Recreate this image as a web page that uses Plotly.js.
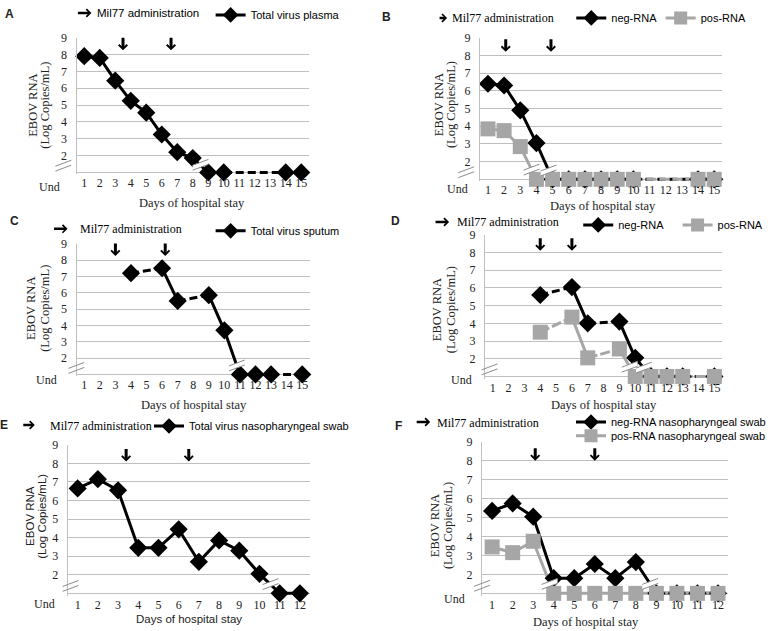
<!DOCTYPE html>
<html>
<head>
<meta charset="utf-8">
<script src="https://cdn.plot.ly/plotly-3.0.1.min.js"></script>
<style>
html, body { margin: 0; padding: 0; background: #fff; }
#chart { width: 771px; height: 631px; }
</style>
</head>
<body>
<div id="chart"></div>
<script>
const W = 771, H = 631;

// "Und" (undetectable) is plotted on the bottom line, value 1
const days15 = [1, 2, 3, 4, 5, 6, 7, 8, 9, 10, 11, 12, 13, 14, 15];
const days12 = [1, 2, 3, 4, 5, 6, 7, 8, 9, 10, 11, 12];
const yTicks = [2, 3, 4, 5, 6, 7, 8, 9];

// A - plasma
const aTotal = [7.9, 7.8, 6.45, 5.25, 4.55, 3.25, 2.2, 1.85, 1, 1, null, null, null, 1, 1];
// B - plasma strands
const bNeg = [6.4, 6.3, 4.9, 3.05, 1, 1, 1, 1, 1, 1, null, null, null, 1, 1];
const bPos = [3.85, 3.75, 2.85, 1, 1, 1, 1, 1, 1, 1, null, null, null, 1, 1];
// C - sputum
const cTotal = [null, null, null, 7.2, null, 7.5, 5.5, null, 5.85, 3.7, 1, 1, 1, null, 1];
// D - sputum strands
const dNeg = [null, null, null, 5.6, null, 6.05, 4.0, null, 4.1, 2.05, 1, 1, 1, null, 1];
const dPos = [null, null, null, 3.5, null, 4.35, 2.05, null, 2.55, 1, 1, 1, 1, null, 1];
// E - nasopharyngeal swab
const eTotal = [6.65, 7.15, 6.55, 3.45, 3.45, 4.45, 2.7, 3.85, 3.3, 2.05, 1, 1];
// F - nasopharyngeal swab strands
const fNeg = [5.35, 5.75, 5.05, 1.8, 1.8, 2.55, 1.8, 2.65, 1, 1, 1, 1];
const fPos = [3.45, 3.15, 3.75, 1, 1, 1, 1, 1, 1, 1, 1, 1];

// connecting segments [from day, to day, style]
const segA = [[1, 10, 'solid'], [10, 14, 'dash'], [14, 15, 'solid']];
const segB = [[1, 10, 'solid'], [10, 14, 'dash'], [14, 15, 'solid']];
const segC = [[4, 6, 'dash'], [6, 7, 'solid'], [7, 9, 'dash'], [9, 13, 'solid'], [13, 15, 'dash']];
const segD = segC;
const segE = [[1, 12, 'solid']];
const segF = [[1, 12, 'solid']];

// Mil77 administration (day position of the arrows)
const arrA = [3.5, 6.6];
const arrB = [2.1, 4.9];
const arrC = [3.0, 6.2];
const arrD = [4, 6];
const arrE = [3.4, 6.5];
const arrF = [3.1, 6.0];

// axis break marks on the lines [day, value]
const brkA = [[8.5, 1.45]];
const brkB = [[3.7, 1.55], [4.75, 1.5]];
const brkC = [[10.8, 1.55]];
const brkD = [[9.65, 1.55], [10.55, 1.5]];
const brkE = [[10.55, 1.5]];
const brkF = [[3.8, 1.5], [8.7, 1.5]];

const SANS = 'Liberation Sans, Arial, sans-serif';
const SERIF = 'Liberation Serif, Times New Roman, serif';
const GRID = '#bfbfbf';
const GREY = '#a6a6a6';
const Y0 = 0.88, Y1 = 9;

const styles = {
  neg: {color: '#000000', symbol: 'diamond', size: 14, dash: '8px,4px'},
  pos: {color: GREY, symbol: 'square', size: 15, dash: '10px,3px'}
};

const panels = [
  {letter: 'A', letterAt: [10, 8], days: days15, box: [77, 311, 32, 168],
   series: [{name: 'Total virus plasma', y: aTotal, seg: segA, kind: 'neg'}],
   arrows: arrA, arrowTip: 8.25, breaks: brkA, axisBreakDay: -0.35,
   mil: {tip: [92, 7], len: 15, text: [96, 7], font: SANS}, legend: [[252, 9]],
   und: [50, 183], ytitle: [33, 45, 100], xtitle: [193, 199], titleFont: SERIF},
  {letter: 'B', letterAt: [389, 11], days: days15, box: [483, 727, 32, 175],
   series: [{name: 'neg-RNA', y: bNeg, seg: segB, kind: 'neg'},
            {name: 'pos-RNA', y: bPos, seg: segB, kind: 'pos'}],
   arrows: arrB, arrowTip: 8.2, breaks: brkB, axisBreakDay: -0.35,
   mil: {tip: [450, 12], len: 9, text: [453, 12], font: SERIF}, legend: [[615, 12], [705, 12]],
   und: [460, 185], ytitle: [442, 454, 100], xtitle: [607, 202], titleFont: SERIF},
  {letter: 'C', letterAt: [15, 217], days: days15, box: [77, 312, 240, 372],
   series: [{name: 'Total virus sputum', y: cTotal, seg: segC, kind: 'neg'}],
   arrows: arrC, arrowTip: 8.25, breaks: brkC, axisBreakDay: 0.49,
   mil: {tip: [68, 225], len: 15, text: [79, 225], font: SERIF}, legend: [[252, 227]],
   und: [47, 378], ytitle: [31, 45, 305], xtitle: [195, 403], titleFont: SERIF},
  {letter: 'D', letterAt: [398, 217], days: days15, box: [488, 727, 231, 374],
   series: [{name: 'neg-RNA', y: dNeg, seg: segD, kind: 'neg'},
            {name: 'pos-RNA', y: dPos, seg: segD, kind: 'pos'}],
   arrows: arrD, arrowTip: 8.1, breaks: brkD, axisBreakDay: 0.8,
   mil: {tip: [452, 218], len: 15, text: [458, 218], font: SERIF}, legend: [[622, 221], [722, 221]],
   und: [465, 378], ytitle: [440, 454, 307], xtitle: [608, 403], titleFont: SERIF},
  {letter: 'E', letterAt: [4, 423], days: days12, box: [68, 312, 443, 593],
   series: [{name: 'Total virus nasopharyngeal swab', y: eTotal, seg: segE, kind: 'neg'}],
   arrows: arrE, arrowTip: 8.1, breaks: brkE, axisBreakDay: 0.65,
   mil: {tip: [35, 423], len: 13, text: [48, 424], font: SERIF}, legend: [[190, 424]],
   und: [45, 604], ytitle: [30, 42, 515], xtitle: [190, 619], titleFont: SANS},
  {letter: 'F', letterAt: [401, 424], days: days12, box: [485, 733, 440, 593],
   series: [{name: 'neg-RNA nasopharyngeal swab', y: fNeg, seg: segF, kind: 'neg'},
            {name: 'pos-RNA nasopharyngeal swab', y: fPos, seg: segF, kind: 'pos'}],
   arrows: arrF, arrowTip: 8.0, breaks: brkF, axisBreakDay: 0.51,
   mil: {tip: [433, 420], len: 15, text: [438, 421], font: SERIF}, legend: [[615, 420], [615, 434]],
   und: [457, 599], ytitle: [438, 451, 525], xtitle: [590, 622], titleFont: SERIF}
];

const traces = [];
const layout = {
  width: W, height: H,
  margin: {l: 0, r: 0, t: 0, b: 0},
  paper_bgcolor: '#ffffff', plot_bgcolor: '#ffffff',
  showlegend: true,
  annotations: [], shapes: []
};

// pixel -> paper
const fx = px => px / W;
const fy = py => 1 - py / H;

const text = (x, y, t, font, size, extra) => {
  layout.annotations.push(Object.assign({
    x: fx(x), y: fy(y), xref: 'paper', yref: 'paper',
    xanchor: 'center', yanchor: 'middle', showarrow: false, text: t,
    font: {family: font, size: size, color: '#222'}
  }, extra || {}));
};

let legendCount = 0;

panels.forEach((p, i) => {
  const k = i === 0 ? '' : String(i + 1);
  const xa = 'x' + k, ya = 'y' + k;
  const n = p.days.length;
  const [l, r, top, und] = p.box;
  const unit = (und - top) / 8;
  const bottom = und + (1 - Y0) * unit;
  const px = x => l + (x - 0.5) / n * (r - l);
  const py = y => top + (Y1 - y) * unit;

  layout['xaxis' + k] = {
    domain: [fx(l), fx(r)], range: [0.5, n + 0.5], anchor: ya,
    tickvals: p.days, ticks: '', showgrid: false, zeroline: false,
    showline: false, ticklabelstandoff: 0,
    tickfont: {family: SERIF, size: 12, color: '#222'}, fixedrange: true
  };
  layout['yaxis' + k] = {
    domain: [fy(bottom), fy(top)], range: [Y0, Y1], anchor: xa,
    tickvals: [1].concat(yTicks), ticktext: [''].concat(yTicks.map(String)),
    ticks: '', showgrid: true, gridcolor: GRID, gridwidth: 1, zeroline: false,
    showline: true, linecolor: GRID, linewidth: 1, ticklabelstandoff: 6,
    tickfont: {family: SERIF, size: 12, color: '#222'}, fixedrange: true
  };

  // lines first, black under grey
  p.series.forEach(s => {
    const st = styles[s.kind];
    s.seg.forEach(([a, b, dash]) => {
      const xs = [], ys = [];
      p.days.forEach((d, j) => {
        if (d >= a && d <= b && s.y[j] !== null) { xs.push(d); ys.push(s.y[j]); }
      });
      traces.push({
        x: xs, y: ys, xaxis: xa, yaxis: ya, mode: 'lines', showlegend: false,
        hoverinfo: 'skip', cliponaxis: false,
        line: {color: st.color, width: 3, dash: dash === 'dash' ? st.dash : 'solid'}
      });
    });
  });
  // markers
  p.series.forEach(s => {
    const st = styles[s.kind];
    traces.push({
      x: p.days, y: s.y, xaxis: xa, yaxis: ya, mode: 'markers', showlegend: false,
      cliponaxis: false, hoverinfo: 'x+y',
      marker: {symbol: st.symbol, size: st.size, color: st.color}
    });
  });
  // legend entries, one legend box each
  p.series.forEach((s, j) => {
    const st = styles[s.kind];
    legendCount++;
    const lk = legendCount === 1 ? 'legend' : 'legend' + legendCount;
    const [tx, ty] = p.legend[j];
    layout[lk] = {
      x: fx(tx - 40), y: fy(ty), xanchor: 'left', yanchor: 'middle',
      orientation: 'h', bgcolor: 'rgba(0,0,0,0)', itemwidth: 30,
      font: {family: SANS, size: 11, color: '#000'}
    };
    traces.push({
      x: [null], y: [null], xaxis: xa, yaxis: ya, name: s.name, legend: lk,
      mode: 'lines+markers', showlegend: true,
      line: {color: st.color, width: 3},
      marker: {symbol: st.symbol, size: st.size - 2, color: st.color}
    });
  });

  // Mil77 arrows in the plot
  p.arrows.forEach(d => {
    layout.annotations.push({
      x: d, y: p.arrowTip, xref: xa, yref: ya, text: '', showarrow: true,
      ax: 0, ay: -14, arrowhead: 4, arrowwidth: 3, arrowsize: 0.55, arrowcolor: '#000'
    });
  });
  // "-> Mil77 administration" key
  layout.annotations.push({
    x: fx(p.mil.tip[0]), y: fy(p.mil.tip[1]), xref: 'paper', yref: 'paper', text: '',
    showarrow: true, ax: -p.mil.len, ay: 0, arrowhead: 4, arrowwidth: 2.5, arrowsize: 0.6,
    arrowcolor: '#000'
  });
  const ms = p.mil.font === SANS ? 11.5 : 12;
  text(p.mil.text[0], p.mil.text[1], 'Mil77 administration', p.mil.font, ms,
       {xanchor: 'left', font: {family: p.mil.font, size: ms, color: '#000'}});
  // panel letter
  text(p.letterAt[0], p.letterAt[1], '<b>' + p.letter + '</b>', SANS, 12);
  // Und label
  text(p.und[0], p.und[1], 'Und', SERIF, 12);
  // axis titles
  const ts = p.titleFont === SANS ? 11.5 : 12.5;
  text(p.ytitle[0], p.ytitle[2], 'EBOV RNA', p.titleFont, ts, {textangle: -90});
  text(p.ytitle[1], p.ytitle[2], '(Log Copies/mL)', p.titleFont, ts, {textangle: -90});
  text(p.xtitle[0], p.xtitle[1], 'Days of hospital stay', p.titleFont, ts);

  // break marks: white gap between two slanted strokes
  const brk = (cx, cy, fill) => {
    const h = 8, s = 3, g = 2.5;
    if (fill) {
      layout.shapes.push({
        type: 'path', xref: 'paper', yref: 'paper', layer: 'above',
        path: 'M' + fx(cx - h) + ',' + fy(cy - g + s) + 'L' + fx(cx + h) + ',' + fy(cy - g - s) +
              'L' + fx(cx + h) + ',' + fy(cy + g - s) + 'L' + fx(cx - h) + ',' + fy(cy + g + s) + 'Z',
        fillcolor: '#ffffff', line: {width: 0}
      });
    }
    [-g, g].forEach(o => {
      layout.shapes.push({
        type: 'line', xref: 'paper', yref: 'paper', layer: 'above',
        x0: fx(cx - h), y0: fy(cy + o + s), x1: fx(cx + h), y1: fy(cy + o - s),
        line: {color: '#8c8c8c', width: 1}
      });
    });
  };
  p.breaks.forEach(([d, v]) => brk(px(d), py(v), true));
  brk(px(p.axisBreakDay), py(1.4), false);
});

Plotly.newPlot('chart', traces, layout, {displayModeBar: false, staticPlot: true});
</script>
</body>
</html>
